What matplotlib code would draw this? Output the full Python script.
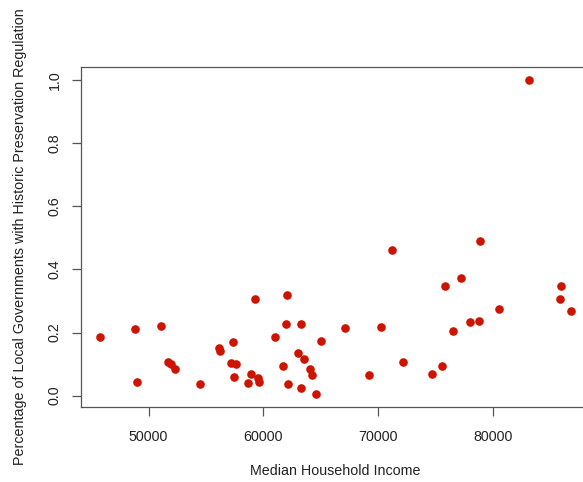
import matplotlib
matplotlib.use("Agg")
import matplotlib.pyplot as plt

plt.rcParams['font.family'] = ['Liberation Sans', 'DejaVu Sans']

# median household income and share of local governments with a preservation rule
income = [
    45779, 48851, 48973, 51062, 51723, 51958, 52306, 54456, 56110, 56249,
    57328, 57154, 57615, 57415, 59243, 58921, 58660, 59556, 59617, 61010,
    62080, 61993, 63299, 61732, 62115, 63011, 63507, 64056, 64204, 63246,
    64578, 65013, 67076, 69217, 70209, 71192, 72150, 74647, 75518, 75805,
    76501, 77171, 77981, 78738, 78877, 80478, 83142, 85901, 85788, 86797,
]
share = [
    0.187, 0.212, 0.042, 0.221, 0.108, 0.101, 0.085, 0.036, 0.152, 0.142,
    0.169, 0.103, 0.100, 0.060, 0.305, 0.070, 0.039, 0.056, 0.042, 0.185,
    0.320, 0.228, 0.228, 0.093, 0.037, 0.136, 0.117, 0.083, 0.067, 0.024,
    0.004, 0.172, 0.213, 0.066, 0.217, 0.461, 0.107, 0.069, 0.094, 0.347,
    0.204, 0.374, 0.234, 0.236, 0.490, 0.274, 1.000, 0.349, 0.306, 0.267,
]
x_ticks = [50000, 60000, 70000, 80000]
y_ticks = [0.0, 0.2, 0.4, 0.6, 0.8, 1.0]

W, H = 583, 482
fig = plt.figure(figsize=(W / 100, H / 100), dpi=100)
ax = fig.add_axes([81.3 / W, 1 - 407 / H, (590 - 81.3) / W, (407 - 67.4) / H])

ax.plot(income, share, 'o', color='#CC1400', markersize=6.2, markeredgewidth=0)


def pad_range(vals, frac=0.04):
    lo, hi = min(vals), max(vals)
    d = (hi - lo) * frac
    return lo - d, hi + d


ax.set_xlim(*pad_range(income))
ax.set_ylim(*pad_range(share))

axis_col = '#555555'
txt_col = '#222222'
for s in ax.spines.values():
    s.set_color(axis_col)
    s.set_linewidth(0.9)

ax.set_xticks(x_ticks)
ax.set_xticklabels([str(v) for v in x_ticks])
ax.set_yticks(y_ticks)
ax.set_yticklabels([f"{v:.1f}" for v in y_ticks], rotation=90, va='center')
ax.tick_params(length=6.3, width=0.9, color=axis_col, labelcolor=txt_col,
               labelsize=10.3)
ax.tick_params(axis='x', pad=10)
ax.tick_params(axis='y', pad=8)

fig.text((81.3 + 590) / 2 / W, 1 - 471 / H, "Median Household Income",
         ha='center', va='center', fontsize=10.3, color=txt_col)
fig.text(20 / W, 1 - 237 / H,
         "Percentage of Local Governments with Historic Preservation Regulation",
         ha='center', va='center', rotation=90, fontsize=10.3, color=txt_col)

fig.savefig("out.png", dpi=100)
